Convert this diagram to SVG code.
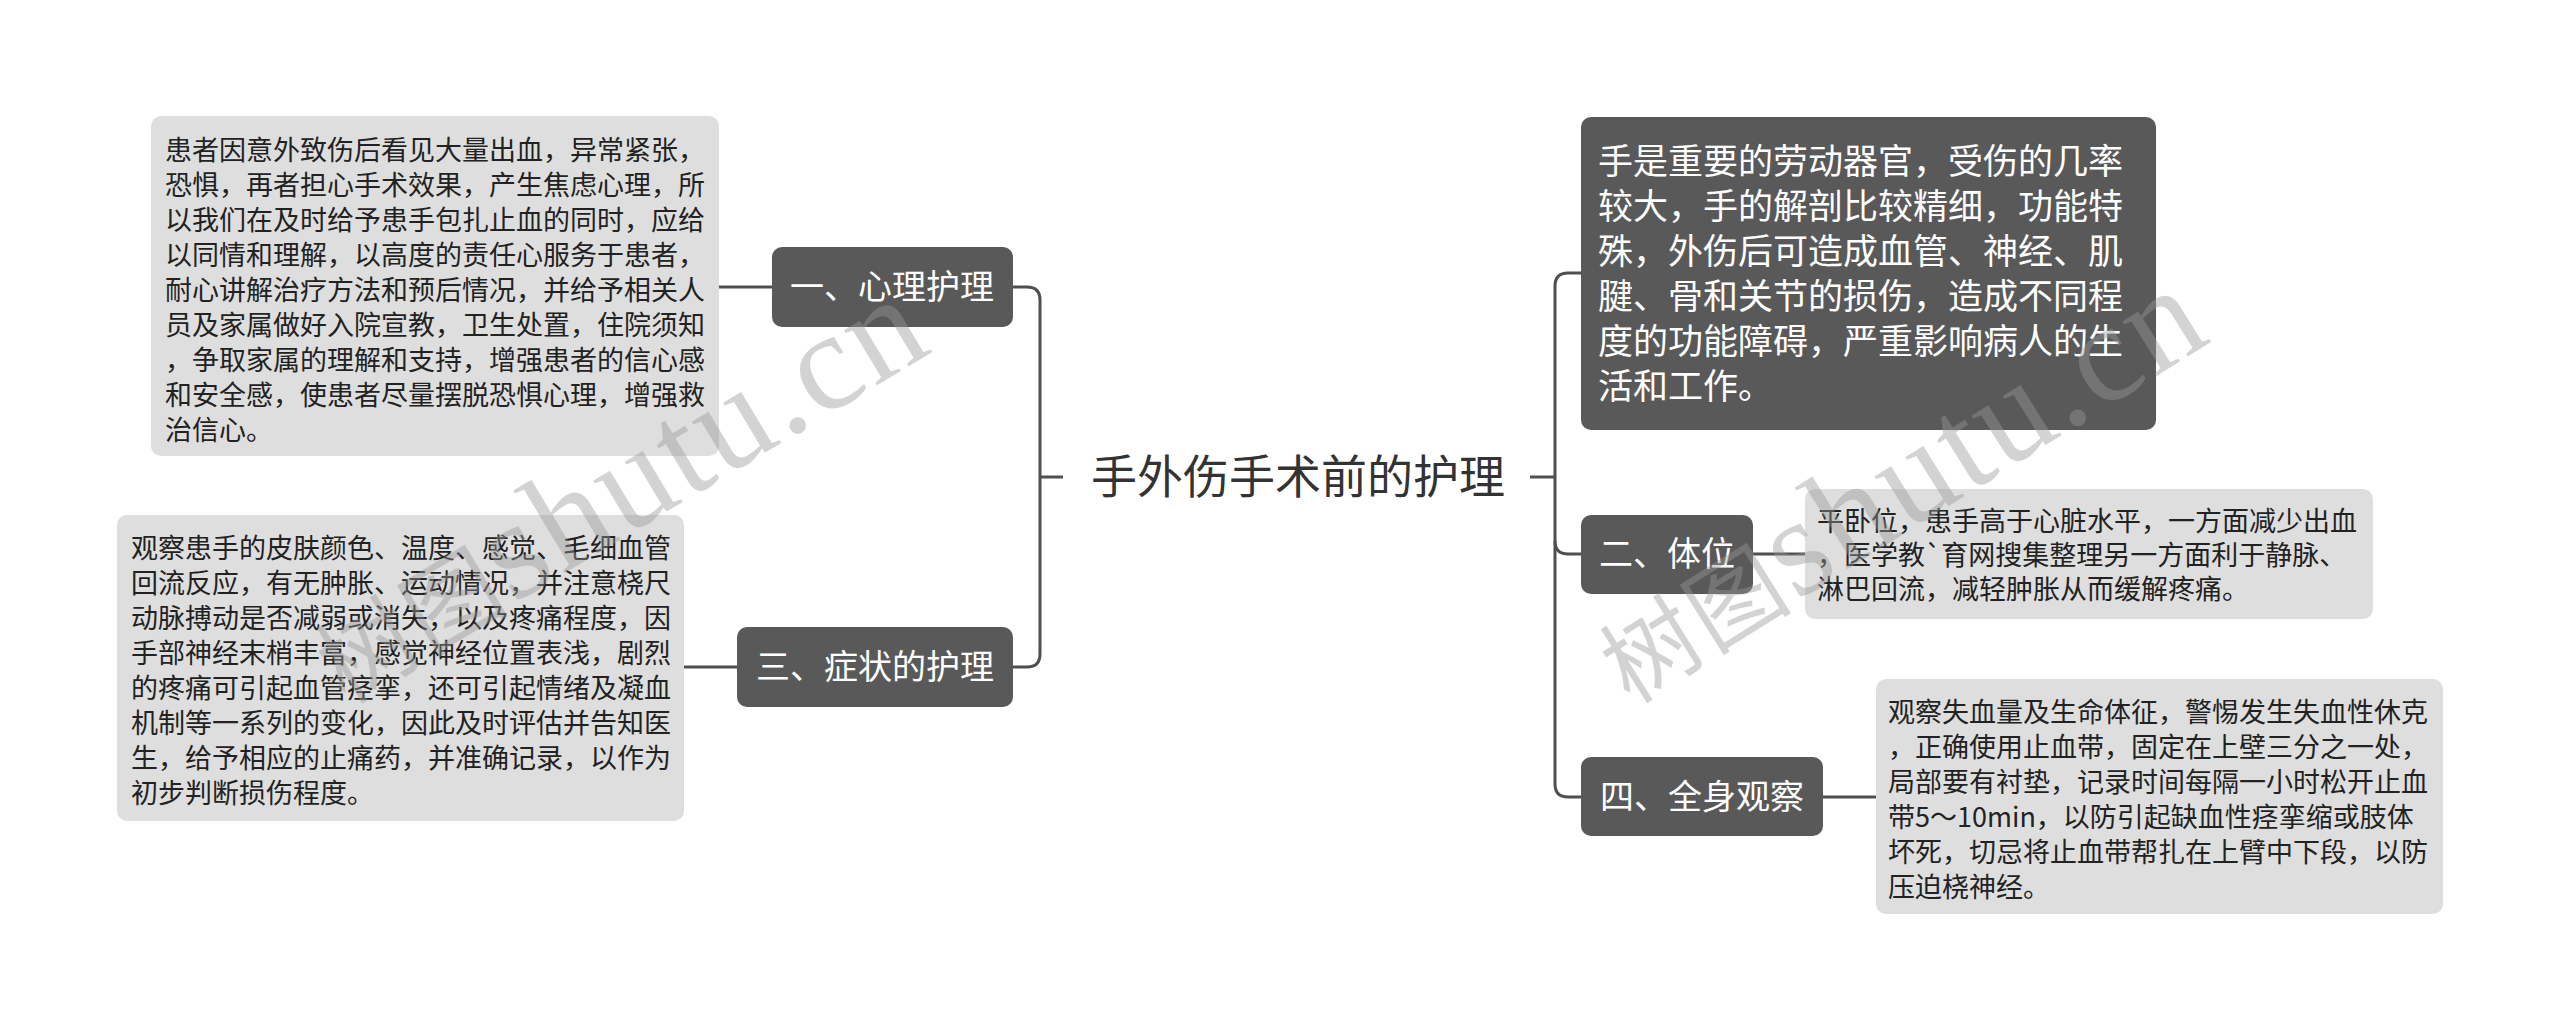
<svg xmlns="http://www.w3.org/2000/svg" width="2560" height="1031" viewBox="0 0 2560 1031">
<style>
.bg{fill:#ffffff}
.node{fill:#595959}
.box{fill:#dedede}
.ntext{font-family:"Noto Sans CJK SC","Noto Sans",sans-serif;font-size:34px;fill:#ffffff;text-anchor:middle}
.btext{font-family:"Noto Sans CJK SC","Noto Sans",sans-serif;font-size:27px;fill:#222222}
.dtext{font-family:"Noto Sans CJK SC","Noto Sans",sans-serif;font-size:35px;fill:#ffffff}
.root{font-family:"Noto Sans CJK SC","Noto Sans",sans-serif;font-size:46px;fill:#333333;text-anchor:middle}
.conn path{fill:none;stroke:#4f4f4f;stroke-width:3}
.wm{font-family:"Liberation Serif","Noto Sans CJK SC",serif;fill:#999999;opacity:0.42;letter-spacing:3px}
</style>
<rect class="bg" x="0" y="0" width="2560" height="1031"/>
<g id="connectors" class="conn">
<path d="M1063,477 H1040"/>
<path d="M1013,287 H1027 Q1040,287 1040,300 V654 Q1040,667 1027,667 H1013"/>
<path d="M719,287 H772"/>
<path d="M684,667 H737"/>
<path d="M1530,477 H1555"/>
<path d="M1581,273 H1568 Q1555,273 1555,286 V784 Q1555,797 1568,797 H1581"/>
<path d="M1555,541 Q1555,554 1568,554 H1581"/>
<path d="M1753,554 H1805"/>
<path d="M1823,797 H1876"/>
</g>
<g id="root">
<text class="root" x="1298" y="493">手外伤手术前的护理</text>
</g>
<g id="n1">
<rect class="node" x="772" y="247" width="241" height="80" rx="10"/>
<text class="ntext" x="892" y="299">一、心理护理</text>
</g>
<g id="n1c">
<rect class="box" x="151" y="116" width="568" height="340" rx="10"/>
<text class="btext" x="165" y="159.5">
<tspan x="165">患者因意外致伤后看见大量出血，异常紧张，</tspan>
<tspan x="165" dy="35">恐惧，再者担心手术效果，产生焦虑心理，所</tspan>
<tspan x="165" dy="35">以我们在及时给予患手包扎止血的同时，应给</tspan>
<tspan x="165" dy="35">以同情和理解，以高度的责任心服务于患者，</tspan>
<tspan x="165" dy="35">耐心讲解治疗方法和预后情况，并给予相关人</tspan>
<tspan x="165" dy="35">员及家属做好入院宣教，卫生处置，住院须知</tspan>
<tspan x="165" dy="35">，争取家属的理解和支持，增强患者的信心感</tspan>
<tspan x="165" dy="35">和安全感，使患者尽量摆脱恐惧心理，增强救</tspan>
<tspan x="165" dy="35">治信心。</tspan>
</text>
</g>
<g id="n3">
<rect class="node" x="737" y="627" width="276" height="80" rx="10"/>
<text class="ntext" x="875" y="679">三、症状的护理</text>
</g>
<g id="n3c">
<rect class="box" x="117" y="515" width="567" height="306" rx="10"/>
<text class="btext" x="131" y="557.5">
<tspan x="131">观察患手的皮肤颜色、温度、感觉、毛细血管</tspan>
<tspan x="131" dy="35">回流反应，有无肿胀、运动情况，并注意桡尺</tspan>
<tspan x="131" dy="35">动脉搏动是否减弱或消失，以及疼痛程度，因</tspan>
<tspan x="131" dy="35">手部神经末梢丰富，感觉神经位置表浅，剧烈</tspan>
<tspan x="131" dy="35">的疼痛可引起血管痉挛，还可引起情绪及凝血</tspan>
<tspan x="131" dy="35">机制等一系列的变化，因此及时评估并告知医</tspan>
<tspan x="131" dy="35">生，给予相应的止痛药，并准确记录，以作为</tspan>
<tspan x="131" dy="35">初步判断损伤程度。</tspan>
</text>
</g>
<g id="n0">
<rect class="node" x="1581" y="117" width="575" height="313" rx="10"/>
<text class="dtext" x="1598" y="174">
<tspan x="1598">手是重要的劳动器官，受伤的几率</tspan>
<tspan x="1598" dy="45">较大，手的解剖比较精细，功能特</tspan>
<tspan x="1598" dy="45">殊，外伤后可造成血管、神经、肌</tspan>
<tspan x="1598" dy="45">腱、骨和关节的损伤，造成不同程</tspan>
<tspan x="1598" dy="45">度的功能障碍，严重影响病人的生</tspan>
<tspan x="1598" dy="45">活和工作。</tspan>
</text>
</g>
<g id="n2">
<rect class="node" x="1581" y="515" width="172" height="79" rx="10"/>
<text class="ntext" x="1667" y="566">二、体位</text>
</g>
<g id="n2c">
<rect class="box" x="1805" y="489" width="568" height="130" rx="10"/>
<text class="btext" x="1817" y="530.5">
<tspan x="1817">平卧位，患手高于心脏水平，一方面减少出血</tspan>
<tspan x="1817" dy="34">，医学教`育网搜集整理另一方面利于静脉、</tspan>
<tspan x="1817" dy="34">淋巴回流，减轻肿胀从而缓解疼痛。</tspan>
</text>
</g>
<g id="n4">
<rect class="node" x="1581" y="757" width="242" height="79" rx="10"/>
<text class="ntext" x="1702" y="808.5">四、全身观察</text>
</g>
<g id="n4c">
<rect class="box" x="1876" y="679" width="567" height="235" rx="10"/>
<text class="btext" x="1888" y="721.5">
<tspan x="1888">观察失血量及生命体征，警惕发生失血性休克</tspan>
<tspan x="1888" dy="35">，正确使用止血带，固定在上壁三分之一处，</tspan>
<tspan x="1888" dy="35">局部要有衬垫，记录时间每隔一小时松开止血</tspan>
<tspan x="1888" dy="35">带5～10min，以防引起缺血性痉挛缩或肢体</tspan>
<tspan x="1888" dy="35">坏死，切忌将止血带帮扎在上臂中下段，以防</tspan>
<tspan x="1888" dy="35">压迫桡神经。</tspan>
</text>
</g>
<g id="watermarks">
<text class="wm" x="345" y="705" transform="rotate(-31 345 705)"><tspan font-size="95">树图</tspan><tspan font-size="140">shutu.cn</tspan></text>
<text class="wm" x="1630" y="705" transform="rotate(-32 1630 705)"><tspan font-size="95">树图</tspan><tspan font-size="140">shutu.cn</tspan></text>
</g>
</svg>
